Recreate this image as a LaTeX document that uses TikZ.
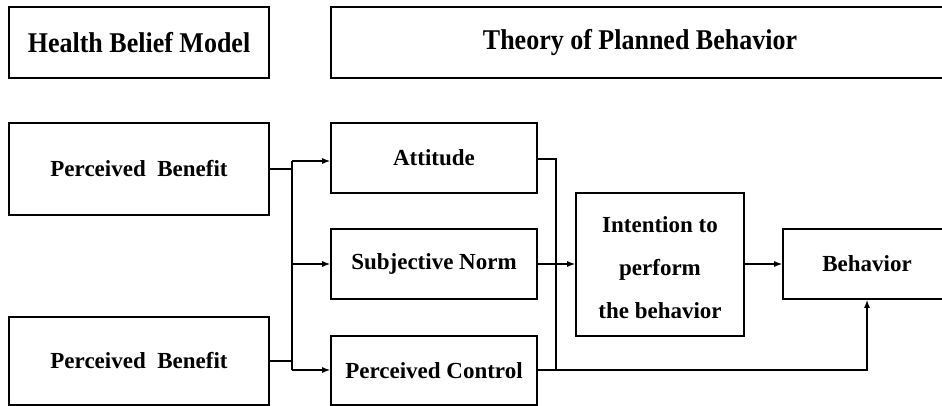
\documentclass[tikz,border=0pt]{standalone}
\usepackage{fontspec}
\setmainfont{Liberation Serif}
\usetikzlibrary{arrows.meta}
\begin{document}
\begin{tikzpicture}[x=1pt,y=-1pt,
  box/.style={draw,line width=1.6pt,inner sep=0pt,align=center,
    font=\bfseries\fontsize{23}{26}\selectfont},
  titlebox/.style={box,font=\bfseries\fontsize{26}{30}\selectfont},
  conn/.style={line width=1.4pt},
  arr/.style={conn,-{Latex[length=8pt,width=6pt]}}]
\useasboundingbox (0,0) rectangle (942,406);
\clip (0,0) rectangle (942,406);
% titles
\node[titlebox,minimum width=260pt,minimum height=71pt] (hbm) at (139,42.5) {\raisebox{-1pt}{\scalebox{1}[1.1]{Health Belief Model}}};
\node[titlebox,minimum width=618pt,minimum height=71pt] (tpb) at (640,42.5) {\raisebox{-1pt}{\scalebox{1}[1.1]{Theory of Planned Behavior}}};
% left boxes
\node[box,minimum width=260pt,minimum height=92pt] (pb1) at (139,169) {Perceived\ \ Benefit};
\node[box,minimum width=260pt,minimum height=88pt] (pb2) at (139,361) {Perceived\ \ Benefit};
% middle boxes
\node[box,minimum width=206pt,minimum height=70pt] (att) at (434,158) {Attitude};
\node[box,minimum width=206pt,minimum height=70pt] (sn) at (434,264) {Subjective Norm};
\node[box,minimum width=206pt,minimum height=69pt] (pc) at (434,370.5) {Perceived Control};
% right boxes
\node[box,minimum width=168pt,minimum height=143pt] (int) at (660,264.5) {};
\node[font=\bfseries\fontsize{23}{43}\selectfont,align=center,inner sep=0pt] (intxt) at (660,268) {Intention to\\perform\\the behavior};
\node[box,minimum width=168pt,minimum height=70pt] (beh) at (867,264) {Behavior};
% junction coordinates
\coordinate (jtop) at (292,161);
\coordinate (jmid) at (292,264);
\coordinate (jbot) at (292,370);
\coordinate (k1) at (292,169);
\coordinate (k2) at (292,361);
\coordinate (atop) at (556,159);
\coordinate (abot) at (556,370);
\coordinate (bcorner) at (867,370);
% connectors
\draw[conn] (pb1.east |- k1) -- (k1);
\draw[conn] (pb2.east |- k2) -- (k2);
\draw[conn] (jtop) -- (jbot);
\draw[arr] (jtop) -- (att.west |- jtop);
\draw[arr] (jmid) -- (sn.west);
\draw[arr] (jbot) -- (pc.west |- jbot);
\draw[conn] (att.east |- atop) -- (atop) -- (abot);
\draw[arr] (sn.east) -- (int.west |- sn.east);
\draw[arr] (pc.east |- bcorner) -- (bcorner) -- (beh.south);
\draw[arr] (int.east |- beh.west) -- (beh.west);
\end{tikzpicture}
\end{document}
